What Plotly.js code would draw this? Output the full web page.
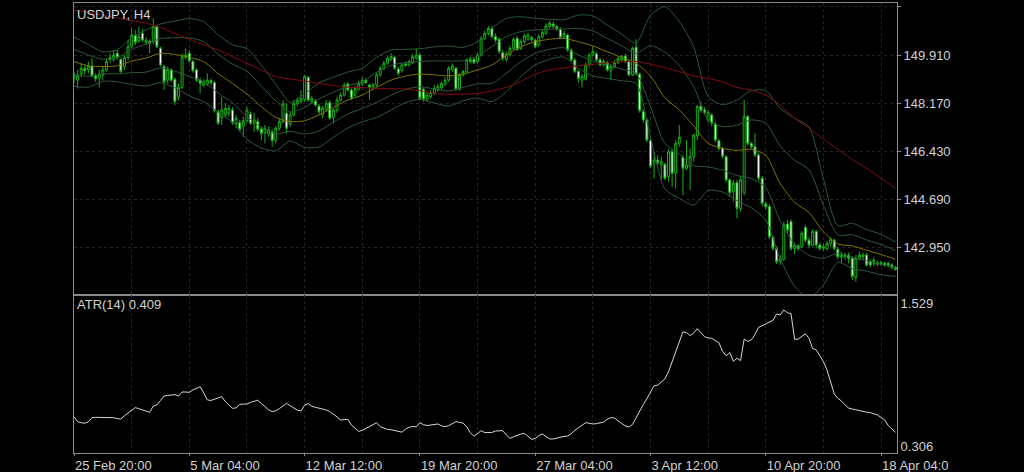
<!DOCTYPE html>
<html>
<head>
<meta charset="utf-8">
<script src="https://cdn.plot.ly/plotly-3.0.1.min.js"></script>
<style>html,body{margin:0;padding:0;background:#000;}#chart{width:1024px;height:472px;}</style>
</head>
<body>
<div id="chart"></div>
<script>
// ---- Data ----
const symbolTitle = 'USDJPY, H4';
const atrTitle = 'ATR(14) 0.409';

const open = [
149.07,149.00,149.22,149.43,149.37,149.51,149.15,149.08,149.19,149.37,
149.82,149.75,149.97,149.75,149.49,149.82,150.21,150.63,150.43,150.69,
150.36,150.40,150.39,150.94,150.15,149.49,149.00,149.37,149.03,148.40,
148.74,149.82,149.97,149.67,149.37,149.00,148.82,148.86,148.98,148.91,
147.86,147.65,147.74,147.80,147.92,147.44,147.46,147.32,147.53,147.77,
147.44,147.50,147.23,147.10,147.05,147.13,146.83,147.26,147.50,147.80,
147.41,147.74,148.14,148.22,148.31,149.10,148.22,148.25,148.06,147.74,
147.94,148.18,147.65,147.90,148.28,148.46,148.86,148.64,148.46,148.67,
148.86,149.00,148.82,148.70,148.82,149.19,149.43,149.61,149.75,149.82,
149.40,149.34,149.58,149.55,149.63,149.79,149.91,148.67,148.31,148.40,
148.52,148.64,148.73,148.86,149.00,149.39,149.43,148.67,149.19,149.31,
149.67,149.75,149.67,149.91,150.51,150.69,150.87,150.57,150.48,149.99,
149.75,149.91,150.15,150.51,150.15,150.39,150.48,150.54,150.45,150.27,
150.57,150.69,150.94,151.03,150.94,150.84,150.57,150.63,150.09,149.73,
149.31,149.00,149.03,149.55,149.91,149.95,149.73,149.55,149.63,149.34,
149.49,149.63,149.73,149.87,149.67,149.19,150.19,149.22,147.86,147.56,
146.81,145.99,146.11,145.93,145.95,145.51,146.41,145.63,146.71,146.21,
145.81,145.87,146.23,146.98,148.06,147.92,147.56,147.74,147.41,146.81,
146.53,146.23,145.39,144.96,145.29,144.36,144.93,147.68,146.71,146.59,
146.29,145.45,144.52,144.42,143.31,142.91,142.43,142.51,143.79,143.88,
142.91,143.00,142.97,143.67,143.21,143.03,143.52,143.03,142.91,142.91,
143.09,143.21,142.88,142.59,142.61,142.67,142.55,141.86,142.55,142.61,
142.67,142.43,142.37,142.39,142.35,142.37,142.37,142.31,142.22];

const high = [
149.31,149.37,149.61,149.55,149.67,149.79,149.25,149.37,149.49,149.79,
149.97,150.09,150.11,149.82,149.91,150.45,150.87,150.81,150.94,150.84,
150.55,150.48,151.24,151.00,150.21,149.55,149.49,149.43,149.10,148.88,
149.97,150.15,150.09,149.73,149.43,149.10,149.03,149.25,149.06,148.96,
147.92,148.40,148.16,148.10,148.02,147.74,147.56,147.68,148.04,147.86,
147.80,147.62,147.32,147.38,147.32,147.22,147.34,147.62,148.28,148.16,
147.86,148.28,148.38,148.64,149.19,149.15,148.43,148.31,148.14,148.06,
148.28,148.26,147.98,148.40,148.55,148.91,148.94,148.70,148.79,148.98,
149.10,149.06,148.88,148.91,149.27,149.51,149.70,149.87,149.97,149.87,
149.49,149.63,149.67,149.75,149.95,150.15,149.97,148.74,148.58,148.64,
148.82,148.86,148.94,149.10,149.51,149.61,149.49,149.25,149.37,149.79,
149.85,149.82,149.99,150.60,150.79,150.96,150.96,150.69,150.55,150.09,
150.03,150.24,150.55,150.60,150.48,150.69,150.72,150.60,150.51,150.66,
150.81,151.06,151.15,151.12,151.00,150.91,150.79,150.69,150.15,149.79,
149.37,149.22,149.63,149.99,150.21,150.03,149.82,149.75,149.70,149.58,
149.73,149.87,149.91,149.95,149.73,150.21,150.48,149.27,147.94,147.62,
146.86,146.41,146.29,146.23,146.01,146.50,146.50,146.83,147.38,146.29,
146.83,146.53,147.07,148.10,148.22,148.02,147.92,147.80,147.50,146.86,
146.59,146.29,145.45,145.39,145.39,145.51,148.28,147.74,146.77,147.07,
146.37,145.53,144.60,144.52,143.40,143.00,142.67,143.88,143.94,143.96,
143.12,143.07,143.55,143.76,143.31,143.60,143.58,143.12,143.07,143.19,
143.31,143.27,142.95,142.79,142.76,142.76,142.63,142.67,142.79,142.76,
142.76,142.51,142.59,142.47,142.47,142.43,142.43,142.37,142.27];

const low = [
148.88,148.70,149.10,149.19,149.25,149.10,148.94,148.74,149.00,149.31,
149.61,149.67,149.73,149.22,149.37,149.73,150.15,150.27,150.33,150.39,
150.27,149.97,150.31,150.15,149.49,148.64,148.88,148.94,148.10,148.28,
148.67,149.75,149.63,149.27,148.94,148.52,148.74,148.79,148.82,147.82,
147.38,147.38,147.65,147.68,147.38,147.26,147.13,146.95,147.46,147.38,
147.13,147.13,146.83,146.71,146.95,146.59,146.71,147.17,147.44,147.07,
147.32,147.68,148.06,148.16,148.22,148.22,148.14,148.04,147.77,147.62,
147.86,147.56,147.44,147.82,148.22,148.40,148.58,148.28,148.40,148.62,
148.79,148.86,148.28,148.64,148.76,149.13,149.37,149.55,149.70,149.37,
149.15,149.27,149.49,149.49,149.58,149.73,148.28,148.22,148.22,148.34,
148.46,148.58,148.64,148.79,148.94,149.31,148.62,148.62,149.13,149.25,
149.61,149.58,149.61,149.85,150.45,150.63,150.51,150.36,149.95,149.70,
149.67,149.85,150.09,150.07,150.09,150.33,150.43,150.39,150.15,150.21,
150.51,150.63,150.87,150.86,150.79,150.48,150.51,150.03,149.67,149.25,
148.91,148.74,148.98,149.49,149.85,149.67,149.49,149.49,149.31,149.00,
149.43,149.58,149.67,149.61,149.15,149.15,149.17,147.82,147.46,146.74,
145.81,145.45,145.93,145.39,145.39,145.33,145.14,145.08,146.59,144.84,
145.75,145.02,146.05,146.83,147.82,147.74,147.46,147.34,146.74,146.45,
146.17,145.29,144.78,144.60,144.00,144.24,144.84,146.62,146.50,146.21,
145.36,144.44,144.32,143.24,142.83,142.35,142.31,142.47,143.46,142.83,
142.71,142.83,142.91,143.12,142.91,142.97,142.91,142.83,142.83,142.83,
143.00,142.85,142.51,142.37,142.51,142.37,141.77,141.71,142.47,142.49,
142.25,142.22,142.27,142.27,142.27,142.25,142.22,142.15,142.11];

const close = [
149.19,149.15,149.43,149.34,149.51,149.15,149.05,149.22,149.37,149.67,
149.75,149.91,149.82,149.31,149.82,150.21,150.63,150.36,150.57,150.45,
150.45,150.33,150.94,150.21,149.55,148.94,149.39,149.00,148.22,148.74,
149.85,149.91,149.70,149.34,149.00,148.88,148.94,149.00,148.91,147.90,
147.44,147.92,147.98,147.98,147.46,147.62,147.22,147.53,147.92,147.44,
147.56,147.22,147.07,147.26,147.20,146.81,147.26,147.50,148.14,147.26,
147.74,148.16,148.28,148.34,149.13,148.28,148.34,148.10,147.86,147.98,
148.16,147.62,147.92,148.28,148.46,148.82,148.64,148.34,148.70,148.88,
149.00,148.91,148.74,148.82,149.19,149.43,149.61,149.79,149.85,149.43,
149.25,149.55,149.54,149.67,149.85,149.91,148.34,148.31,148.46,148.55,
148.70,148.76,148.88,149.00,149.43,149.51,148.67,149.19,149.31,149.73,
149.75,149.63,149.91,150.51,150.69,150.87,150.57,150.45,150.03,149.78,
149.95,150.15,150.48,150.11,150.39,150.60,150.63,150.48,150.21,150.57,
150.72,150.96,151.06,150.94,150.86,150.55,150.69,150.09,149.73,149.31,
149.06,149.13,149.55,149.91,150.03,149.73,149.55,149.67,149.37,149.49,
149.63,149.79,149.85,149.67,149.19,150.15,149.22,147.90,147.56,146.83,
145.89,146.11,146.01,146.05,145.45,146.41,145.63,146.71,146.93,145.81,
145.93,146.23,147.01,148.04,147.90,147.82,147.82,147.44,146.83,146.53,
146.25,145.39,144.93,145.27,144.36,145.39,147.68,146.71,146.59,146.29,
145.45,144.54,144.42,143.33,142.91,142.43,142.55,143.76,143.58,142.91,
143.03,142.91,143.46,143.21,143.03,143.52,143.03,142.91,142.97,143.09,
143.24,142.91,142.61,142.67,142.67,142.55,141.89,142.55,142.67,142.67,
142.31,142.31,142.49,142.35,142.39,142.31,142.31,142.22,142.15];

// Bollinger band (20) middle and standard deviation, read every 4 bars
const bandBars = [0,4,8,12,16,20,24,28,32,36,40,44,48,52,56,60,64,68,72,76,80,84,88,92,96,100,104,108,112,116,120,124,128,132,136,140,144,148,152,156,160,164,168,172,176,180,184,188,192,196,200,204,208,212,216,220,224,228];
const bbMid = [149.67,149.52,149.49,149.52,149.69,149.80,149.97,149.93,149.83,149.67,149.24,148.88,148.50,148.04,147.65,147.50,147.53,147.74,148.02,148.28,148.46,148.74,149.00,149.15,149.22,149.19,149.15,149.22,149.37,149.55,149.91,150.21,150.39,150.48,150.51,150.39,150.24,150.03,149.82,149.61,149.15,148.36,147.92,147.34,146.71,146.53,146.46,146.50,146.28,145.26,144.58,144.21,143.51,143.07,143.00,142.84,142.69,142.52];
const bbSd = [0.446,0.386,0.265,0.290,0.422,0.507,0.531,0.603,0.700,0.724,0.700,0.700,0.820,0.748,0.603,0.350,0.483,0.579,0.543,0.507,0.483,0.543,0.543,0.483,0.458,0.507,0.543,0.483,0.507,0.664,0.664,0.543,0.422,0.362,0.338,0.483,0.543,0.483,0.422,0.362,1.100,1.650,1.600,1.430,0.850,0.790,0.910,1.060,1.170,1.360,1.520,1.550,0.960,0.330,0.410,0.376,0.365,0.310];
// long moving average (red), read every 4 bars
const maSlow = [151.54,151.44,151.35,151.25,151.15,151.06,150.91,150.69,150.48,150.28,150.09,149.85,149.61,149.37,149.13,149.04,148.97,148.88,148.81,148.74,148.73,148.70,148.69,148.68,148.62,148.52,148.49,148.49,148.52,148.61,148.74,148.95,149.22,149.37,149.44,149.52,149.57,149.62,149.67,149.67,149.58,149.45,149.31,149.15,149.06,148.94,148.74,148.64,148.46,148.10,147.62,147.26,146.86,146.50,146.13,145.81,145.45,145.08];

const atr = [
0.557,0.514,0.505,0.500,0.514,0.548,0.551,0.551,0.551,0.552,
0.554,0.548,0.540,0.537,0.565,0.590,0.612,0.634,0.625,0.614,
0.600,0.594,0.648,0.657,0.695,0.733,0.738,0.739,0.745,0.733,
0.768,0.767,0.765,0.785,0.800,0.813,0.760,0.700,0.695,0.708,
0.718,0.728,0.685,0.660,0.628,0.632,0.662,0.664,0.665,0.679,
0.688,0.697,0.670,0.640,0.615,0.600,0.608,0.625,0.650,0.671,
0.650,0.630,0.612,0.605,0.655,0.668,0.645,0.637,0.630,0.622,
0.614,0.600,0.579,0.555,0.528,0.532,0.534,0.485,0.460,0.431,
0.440,0.457,0.471,0.495,0.505,0.471,0.460,0.448,0.445,0.440,
0.432,0.424,0.450,0.466,0.472,0.470,0.505,0.488,0.481,0.485,
0.490,0.494,0.478,0.471,0.480,0.500,0.514,0.508,0.502,0.470,
0.420,0.389,0.412,0.437,0.420,0.421,0.422,0.434,0.436,0.437,
0.400,0.371,0.385,0.400,0.408,0.414,0.390,0.363,0.370,0.395,
0.408,0.390,0.366,0.366,0.375,0.383,0.388,0.391,0.410,0.440,
0.460,0.480,0.505,0.500,0.494,0.497,0.505,0.510,0.535,0.548,
0.545,0.518,0.498,0.478,0.468,0.490,0.550,0.610,0.660,0.710,
0.765,0.821,0.826,0.850,0.880,0.940,1.030,1.110,1.200,1.282,
1.275,1.250,1.272,1.310,1.275,1.240,1.230,1.227,1.207,1.190,
1.115,1.078,1.105,1.030,1.056,1.036,1.220,1.200,1.215,1.260,
1.320,1.335,1.345,1.365,1.380,1.435,1.426,1.469,1.445,1.438,
1.218,1.220,1.240,1.265,1.227,1.140,1.127,1.080,1.027,0.956,
0.850,0.751,0.714,0.690,0.657,0.630,0.622,0.614,0.608,0.600,
0.595,0.591,0.580,0.571,0.550,0.530,0.480,0.450,0.423];

// axis labels
const timeTickBars = [0,32,64,96,128,160,192,224];
const timeTickText = ['25 Feb 20:00','5 Mar 04:00','12 Mar 12:00','19 Mar 20:00','27 Mar 04:00','3 Apr 12:00','10 Apr 20:00','18 Apr 04:0'];
const priceTicks = [142.95,144.69,146.43,148.17,149.91,151.65];
const priceTickText = ['142.950','144.690','146.430','148.170','149.910',''];
const atrTicks = [0.306,1.529];
const atrTickText = ['0.306','1.529'];

// ---- Build ----
const barIdx = close.map((_, i) => i);
const bandLine = k => bbMid.map((m, i) => m + k * bbSd[i]);

const FRAME = '#8a8a8a';
const GRID = '#242424';
const TXT = '#d2d2d2';
const CANDLE = '#16b016';
const BAND = '#2c5a3a';

const traces = [];
[2, 1, -1, -2].forEach(k => traces.push({
  type: 'scatter', mode: 'lines', x: bandBars, y: bandLine(k), xaxis: 'x', yaxis: 'y',
  line: {color: BAND, width: 1, shape: 'spline', smoothing: 0.7}, hoverinfo: 'skip'
}));
traces.push({type: 'scatter', mode: 'lines', x: bandBars, y: bbMid, xaxis: 'x', yaxis: 'y',
  line: {color: '#7e7400', width: 1, shape: 'spline', smoothing: 0.7}, hoverinfo: 'skip'});
traces.push({type: 'scatter', mode: 'lines', x: bandBars, y: maSlow, xaxis: 'x', yaxis: 'y',
  line: {color: '#850c0c', width: 1, shape: 'spline', smoothing: 0.7}, hoverinfo: 'skip'});
traces.push({
  type: 'candlestick', x: barIdx, open: open, high: high, low: low, close: close,
  xaxis: 'x', yaxis: 'y', whiskerwidth: 0,
  increasing: {line: {color: CANDLE, width: 1}, fillcolor: '#000000'},
  decreasing: {line: {color: CANDLE, width: 1}, fillcolor: '#ffffff'},
  hoverinfo: 'skip'
});
traces.push({type: 'scatter', mode: 'lines', x: barIdx, y: atr, xaxis: 'x2', yaxis: 'y2',
  line: {color: '#d6d6d6', width: 1}, hoverinfo: 'skip'});

const xRange = [0, 228.42];
const split = 0.3511;

const layout = {
  width: 1024, height: 472,
  paper_bgcolor: '#000000', plot_bgcolor: '#000000',
  margin: {l: 74, r: 127, t: 3, b: 19, pad: 0},
  showlegend: false, hovermode: false, boxgap: 0.22,
  font: {family: 'Liberation Sans, Arial, sans-serif', size: 13, color: TXT},
  xaxis: {
    domain: [0, 1], anchor: 'y', range: xRange, rangeslider: {visible: false},
    showticklabels: false, ticks: '', tickmode: 'linear', tick0: 0, dtick: 16,
    showgrid: true, gridcolor: GRID, griddash: 'dot', gridwidth: 1,
    showline: true, mirror: true, linecolor: FRAME, linewidth: 1, zeroline: false
  },
  xaxis2: {
    domain: [0, 1], anchor: 'y2', range: xRange,
    tickmode: 'array', tickvals: timeTickBars, ticktext: timeTickText,
    ticks: 'outside', ticklen: 2, tickcolor: FRAME, ticklabelposition: 'outside right',
    tickfont: {size: 13, color: TXT},
    showgrid: true, gridcolor: GRID, griddash: 'dot', gridwidth: 1,
    minor: {tickmode: 'linear', tick0: 0, dtick: 16, showgrid: true, gridcolor: GRID, griddash: 'dot', ticks: ''},
    showline: true, mirror: true, linecolor: FRAME, linewidth: 1, zeroline: false
  },
  yaxis: {
    domain: [split, 1], anchor: 'x', side: 'right', range: [141.224, 151.792],
    tickmode: 'array', tickvals: priceTicks, ticktext: priceTickText,
    ticks: 'outside', ticklen: 3, tickcolor: FRAME, tickfont: {size: 13, color: TXT},
    showgrid: true, gridcolor: GRID, griddash: 'dot', gridwidth: 1,
    showline: true, mirror: true, linecolor: FRAME, linewidth: 1, zeroline: false
  },
  yaxis2: {
    domain: [0, split], anchor: 'x2', side: 'right', range: [0.246, 1.597],
    tickmode: 'array', tickvals: atrTicks, ticktext: atrTickText,
    ticks: '', tickfont: {size: 13, color: TXT}, showgrid: false,
    showline: true, mirror: true, linecolor: FRAME, linewidth: 1, zeroline: false
  },
  annotations: [
    {text: symbolTitle, xref: 'paper', yref: 'paper', x: 0, y: 1, xanchor: 'left', yanchor: 'top',
     xshift: 1, yshift: -2, showarrow: false, font: {size: 13, color: TXT}},
    {text: atrTitle, xref: 'paper', yref: 'paper', x: 0, y: split, xanchor: 'left', yanchor: 'top',
     xshift: 1, yshift: 0, showarrow: false, font: {size: 13, color: TXT}}
  ]
};

Plotly.newPlot('chart', traces, layout, {staticPlot: true, displayModeBar: false});
</script>
</body>
</html>
